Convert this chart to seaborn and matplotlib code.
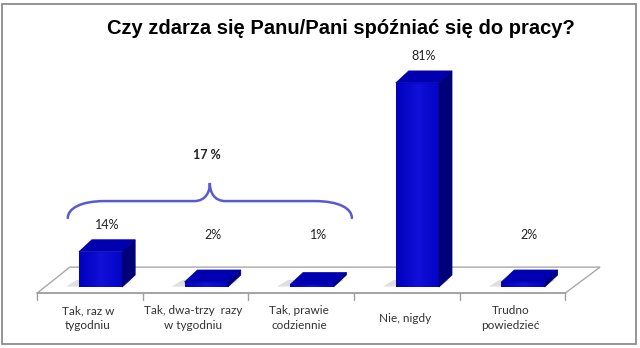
import numpy as np
import pandas as pd
import matplotlib
matplotlib.use("Agg")
import matplotlib.pyplot as plt
from matplotlib.patches import Polygon, Rectangle, PathPatch
from matplotlib.path import Path
from matplotlib.colors import LinearSegmentedColormap
import seaborn as sns

# Survey answers and shares (%)
categories = ["Tak, raz w\ntygodniu", "Tak, dwa-trzy  razy\nw tygodniu", "Tak, prawie\ncodziennie",
              "Nie, nigdy", "Trudno\npowiedzieć"]
values = [14, 2, 1, 81, 2]
value_labels = ["14%", "2%", "1%", "81%", "2%"]
brace_group = [0, 1, 2]          # the "Tak" answers summed under the brace
title = "Czy zdarza się Panu/Pani spóźniać się do pracy?"

sns.set_theme(style="white")
plt.rcParams["font.family"] = ["Lato", "DejaVu Sans"]

FRONT = "#0606c8"
TOP = "#0000b0"
SIDE = "#000078"

fig = plt.figure(figsize=(6.40, 3.48), dpi=100)
ax = fig.add_axes([0, 0, 1, 1])

df = pd.DataFrame({"cat": categories, "val": values})
sns.barplot(data=df, x="cat", y="val", color=FRONT, width=0.41, saturation=1,
            ax=ax, zorder=3, linewidth=0)

ax.set_xlim(-0.852, 5.208)
ax.set_ylim(-24.2, 113.9)
ax.axis("off")

# perspective depth of the 3D look, in data units
ddx, ddy = 0.123, 4.76

# floor of the chart
fl, fr, bl, br = -0.5, 4.5, -0.19, 4.83
yf, yb = -2.4, 7.9
ax.add_patch(Polygon([(fl, yf), (fr, yf), (br, yb), (bl, yb)], closed=True,
                     facecolor="white", edgecolor="#a8a8a8", lw=1.0, zorder=1))
ax.plot([fl, fr], [yf, yf], color="#a0a0a0", lw=1.2, zorder=1.5)
for b in np.arange(-0.5, len(categories) + 0.5, 1.0):
    ax.plot([b, b], [yf, yf - 2.8], color="#a0a0a0", lw=1.0, zorder=1.5)

grad = LinearSegmentedColormap.from_list("front", ["#0000bc", "#1010d8", "#0404c6"])
gimg = np.linspace(0, 1, 64).reshape(1, -1)

for i, (p, v) in enumerate(zip(ax.patches[:len(values)], values)):
    p.set_x(p.get_x() + 0.1)
    x0, w, h = p.get_x(), p.get_width(), p.get_height()
    x1 = x0 + w
    # soft shadow to the left of the base
    ax.add_patch(Polygon([(x0 - 0.12, 0.2), (x1, 0.2), (x1 + 0.1, 2.8), (x0 - 0.02, 2.8)],
                         closed=True, facecolor="#c8c8c8", edgecolor="none", alpha=0.6, zorder=2))
    # front face shading
    im = ax.imshow(gimg, cmap=grad, aspect="auto", extent=(x0, x1, 0, h), zorder=3.1,
                   interpolation="bilinear")
    im.set_clip_path(p)
    # top and side faces
    ax.add_patch(Polygon([(x0, h), (x1, h), (x1 + ddx, h + ddy), (x0 + ddx, h + ddy)],
                         closed=True, facecolor=TOP, edgecolor=TOP, lw=0.5, zorder=3.2))
    ax.add_patch(Polygon([(x1, 0), (x1 + ddx, ddy), (x1 + ddx, h + ddy), (x1, h)],
                         closed=True, facecolor=SIDE, edgecolor=SIDE, lw=0.5, zorder=3.2))
    # value label
    ax.text(x0 + w / 2 + 0.06, max(v + 10.5, 20.5), value_labels[i], ha="center", va="center",
            fontsize=9, color="#222222", zorder=5)

# category labels
for i, c in enumerate(categories):
    ax.text(i - 0.02, -12.3, c, ha="center", va="center", fontsize=8.5,
            color="#333333", linespacing=1.4)

# curly brace over the "Tak" group
xl, xr = brace_group[0] - 0.21, brace_group[-1] + 0.48
xm = (xl + xr) / 2
ye, yh, yp = 27.4, 34.1, 41.3
verts = [(xl, ye), (xl, yh - 3.0), (xl + 0.12, yh), (xl + 0.35, yh),
         (xm - 0.15, yh),
         (xm - 0.04, yh), (xm, yh + 3.5), (xm, yp),
         (xm, yh + 3.5), (xm + 0.04, yh), (xm + 0.15, yh),
         (xr - 0.35, yh),
         (xr - 0.12, yh), (xr, yh - 3.0), (xr, ye)]
codes = [Path.MOVETO, Path.CURVE4, Path.CURVE4, Path.CURVE4,
         Path.LINETO,
         Path.CURVE4, Path.CURVE4, Path.CURVE4,
         Path.CURVE4, Path.CURVE4, Path.CURVE4,
         Path.LINETO,
         Path.CURVE4, Path.CURVE4, Path.CURVE4]
ax.add_patch(PathPatch(Path(verts, codes), facecolor="none", edgecolor="#5a5ad0",
                       lw=1.8, zorder=4, capstyle="round"))
group_total = sum(values[k] for k in brace_group)
ax.text(xm - 0.03, 52.4, f"{group_total} %", ha="center", va="center",
        fontsize=9, fontweight="bold", color="#222222")

fig.text(0.533, 0.918, title, ha="center", va="center", fontsize=14.5,
         fontweight="bold", family=["Liberation Sans", "DejaVu Sans"], color="#000000")

# outer frame
fig.add_artist(Rectangle((0.003, 0.012), 0.991, 0.976, transform=fig.transFigure,
                         fill=False, edgecolor="#8c8c8c", lw=1.3))

fig.savefig("out.png", dpi=100)
